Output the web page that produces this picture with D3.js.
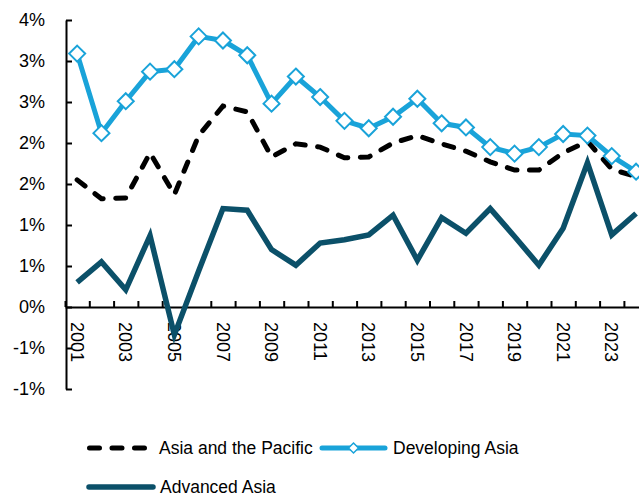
<!DOCTYPE html>
<html>
<head>
<meta charset="utf-8">
<script src="https://cdn.jsdelivr.net/npm/d3@7"></script>
<style>
  html, body { margin: 0; padding: 0; background: #fff; }
  svg { display: block; }
  text { font-family: "Liberation Sans", Arial, sans-serif; fill: #000; }
</style>
</head>
<body>
<svg id="chart" width="639" height="497"></svg>
<script>
// Annual values, percent
const years = d3.range(2001, 2025);
const asiaPacific = [1.55, 1.32, 1.33, 1.88, 1.37, 2.09, 2.45, 2.38, 1.83, 1.99, 1.95, 1.82,
                     1.83, 2.00, 2.09, 1.99, 1.90, 1.77, 1.67, 1.67, 1.88, 2.02, 1.68, 1.59];
const developingAsia = [3.09, 2.12, 2.51, 2.87, 2.90, 3.30, 3.25, 3.07, 2.48, 2.81, 2.56, 2.27,
                        2.18, 2.32, 2.54, 2.24, 2.19, 1.95, 1.87, 1.95, 2.11, 2.09, 1.84, 1.65];
const advancedAsia = [0.30, 0.55, 0.21, 0.87, -0.34, 0.44, 1.20, 1.18, 0.70, 0.51, 0.78, 0.82,
                      0.88, 1.12, 0.57, 1.09, 0.90, 1.20, 0.86, 0.51, 0.96, 1.76, 0.88, 1.14];

const yTicks = [-1, -0.5, 0, 0.5, 1, 1.5, 2, 2.5, 3, 3.5];
const yTickLabels = ["-1%", "-1%", "0%", "1%", "1%", "2%", "2%", "3%", "3%", "4%"];
const xLabelYears = years.filter(y => y % 2 === 1);

const seriesNames = ["Asia and the Pacific", "Developing Asia", "Advanced Asia"];
const colors = { ap: "#000000", dev: "#19a3d9", adv: "#0b5069" };

const svg = d3.select("#chart");

const x = d3.scaleBand().domain(years).range([65, 648.2]).padding(0);
const xEdge = d3.scaleLinear().domain([0, years.length]).range(x.range());
const y = d3.scaleLinear().domain([-1, 3.5]).range([389, 20]);

// y axis with inward ticks
const yAxis = d3.axisLeft(y)
  .tickValues(yTicks)
  .tickFormat((d, i) => yTickLabels[i])
  .tickSizeInner(-6)
  .tickSizeOuter(0)
  .tickPadding(21);
const gy = svg.append("g").attr("transform", `translate(${x.range()[0] + 1},0)`).call(yAxis);
gy.select(".domain").attr("stroke", "#000").attr("stroke-width", 2);
gy.selectAll(".tick line").attr("stroke", "#000").attr("stroke-width", 2);
gy.selectAll(".tick text").attr("font-size", 18).attr("font-family", "Liberation Sans, Arial, sans-serif").attr("fill", "#222");

// x axis at zero: tick marks at band edges, pointing up
const xAxisTicks = d3.axisBottom(xEdge)
  .tickValues(d3.range(0, years.length + 1))
  .tickFormat("")
  .tickSizeInner(-6)
  .tickSizeOuter(0);
const gx = svg.append("g").attr("transform", `translate(0,${y(0)})`).call(xAxisTicks);
gx.select(".domain").attr("stroke", "#000").attr("stroke-width", 2);
gx.selectAll(".tick line").attr("stroke", "#000").attr("stroke-width", 2);

// rotated year labels
const xAxisLabels = d3.axisBottom(x)
  .tickValues(xLabelYears)
  .tickSize(0)
  .tickFormat(d => String(d));
const gxl = svg.append("g").attr("transform", `translate(0,${y(0)})`).call(xAxisLabels);
gxl.select(".domain").remove();
gxl.selectAll(".tick text")
  .attr("font-size", 18)
  .attr("font-family", "Liberation Sans, Arial, sans-serif")
  .attr("fill", "#222")
  .attr("text-anchor", "start")
  .attr("dy", "0.35em")
  .attr("y", 0)
  .attr("transform", "translate(0,15) rotate(90)");

const line = d3.line()
  .x((d, i) => x(years[i]) + x.bandwidth() / 2)
  .y(d => y(d));

// Advanced Asia
svg.append("path")
  .datum(advancedAsia)
  .attr("fill", "none")
  .attr("stroke", colors.adv)
  .attr("stroke-width", 5.5)
  .attr("stroke-linejoin", "miter")
  .attr("d", line);

// Asia and the Pacific (dashed)
svg.append("path")
  .datum(asiaPacific)
  .attr("fill", "none")
  .attr("stroke", colors.ap)
  .attr("stroke-width", 5)
  .attr("stroke-linecap", "round")
  .attr("stroke-dasharray", "10,12.5")
  .attr("d", line);

// Developing Asia with diamond markers
svg.append("path")
  .datum(developingAsia)
  .attr("fill", "none")
  .attr("stroke", colors.dev)
  .attr("stroke-width", 5)
  .attr("d", line);

const diamond = (cx, cy, r) => `M${cx},${cy - r}L${cx + r},${cy}L${cx},${cy + r}L${cx - r},${cy}Z`;
svg.append("g").selectAll("path")
  .data(developingAsia)
  .join("path")
  .attr("d", (d, i) => diamond(x(years[i]) + x.bandwidth() / 2, y(d), 8))
  .attr("fill", "#fff")
  .attr("stroke", colors.dev)
  .attr("stroke-width", 2);

// Legend
const lg = svg.append("g").attr("font-size", 17.5);
lg.append("line").attr("x1", 89.5).attr("x2", 145).attr("y1", 448).attr("y2", 448)
  .attr("stroke", colors.ap).attr("stroke-width", 5).attr("stroke-linecap", "round")
  .attr("stroke-dasharray", "10,12.5");
lg.append("text").attr("x", 159).attr("y", 448).attr("dy", "0.35em").text(seriesNames[0]);

lg.append("line").attr("x1", 322).attr("x2", 385).attr("y1", 448).attr("y2", 448)
  .attr("stroke", colors.dev).attr("stroke-width", 5).attr("stroke-linecap", "round");
lg.append("path").attr("d", diamond(353.5, 448, 5)).attr("fill", "#fff")
  .attr("stroke", colors.dev).attr("stroke-width", 1.5);
lg.append("text").attr("x", 393).attr("y", 448).attr("dy", "0.35em").text(seriesNames[1]);

lg.append("line").attr("x1", 89).attr("x2", 153).attr("y1", 487).attr("y2", 487)
  .attr("stroke", colors.adv).attr("stroke-width", 5.5).attr("stroke-linecap", "round");
lg.append("text").attr("x", 160).attr("y", 487).attr("dy", "0.35em").text(seriesNames[2]);
</script>
</body>
</html>
